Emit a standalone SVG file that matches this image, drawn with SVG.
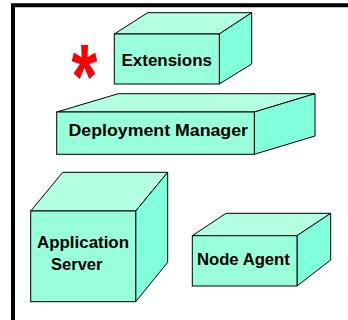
<svg xmlns="http://www.w3.org/2000/svg" width="348" height="320" viewBox="0 0 348 320">
  <style>
    .top { fill: #b3ffe2; stroke: #000; stroke-width: 1; stroke-linejoin: miter; }
    .front { fill: #99ffda; stroke: #000; stroke-width: 1; }
    .side { fill: #80ffdc; stroke: #000; stroke-width: 1; stroke-linejoin: miter; }
    .label { font-family: "Liberation Sans", Arial, sans-serif; font-weight: bold; font-size: 17px; fill: #000; }
    .star { font-family: "Liberation Sans", Arial, sans-serif; font-weight: bold; fill: #ff0000; }
  </style>
  <rect x="0" y="0" width="348" height="320" fill="#fff"/>
  <!-- outer frame, open to the right and bottom -->
  <path d="M13 320 V5.3 H348" fill="none" stroke="#000" stroke-width="4"/>

  <!-- Extensions -->
  <g id="extensions">
    <polygon class="top" points="114.3,34 147.7,12.7 251.7,12.7 219.3,34"/>
    <polygon class="side" points="219.3,34 251.7,12.7 251.7,64 219.3,84"/>
    <rect class="front" x="114.3" y="34" width="105" height="50"/>
    <text class="label" x="121.5" y="66" textLength="90.5" lengthAdjust="spacingAndGlyphs">Extensions</text>
  </g>
  <text class="star" font-size="90" transform="translate(71.5,108) scale(0.74,1)">*</text>

  <!-- Deployment Manager -->
  <g id="deployment-manager">
    <polygon class="top" points="56.7,112 118.3,93.7 315,93.7 254.3,112"/>
    <polygon class="side" points="254.3,112 315,93.7 315,136 254.3,154.3"/>
    <rect class="front" x="56.7" y="112" width="197.6" height="42.3"/>
    <text class="label" x="68.5" y="136" textLength="179.5" lengthAdjust="spacingAndGlyphs">Deployment Manager</text>
  </g>

  <!-- Application Server -->
  <g id="application-server">
    <polygon class="top" points="30.7,211 62.7,172.3 167.7,172.3 135.7,211"/>
    <polygon class="side" points="135.7,211 167.7,172.3 167.7,262.3 135.7,301.7"/>
    <rect class="front" x="30.7" y="211" width="105" height="90.7"/>
    <text class="label" x="37" y="247.7" textLength="92" lengthAdjust="spacingAndGlyphs">Application</text>
    <text class="label" x="51" y="270" textLength="51.5" lengthAdjust="spacingAndGlyphs">Server</text>
  </g>

  <!-- Node Agent -->
  <g id="node-agent">
    <polygon class="top" points="192.3,235.7 226,213.3 330.7,213.3 297,235.7"/>
    <polygon class="side" points="297,235.7 330.7,213.3 330.7,260 297,286"/>
    <rect class="front" x="192.3" y="235.7" width="104.7" height="50.3"/>
    <text class="label" x="197" y="264.5" textLength="92.8" lengthAdjust="spacingAndGlyphs">Node Agent</text>
  </g>
</svg>
